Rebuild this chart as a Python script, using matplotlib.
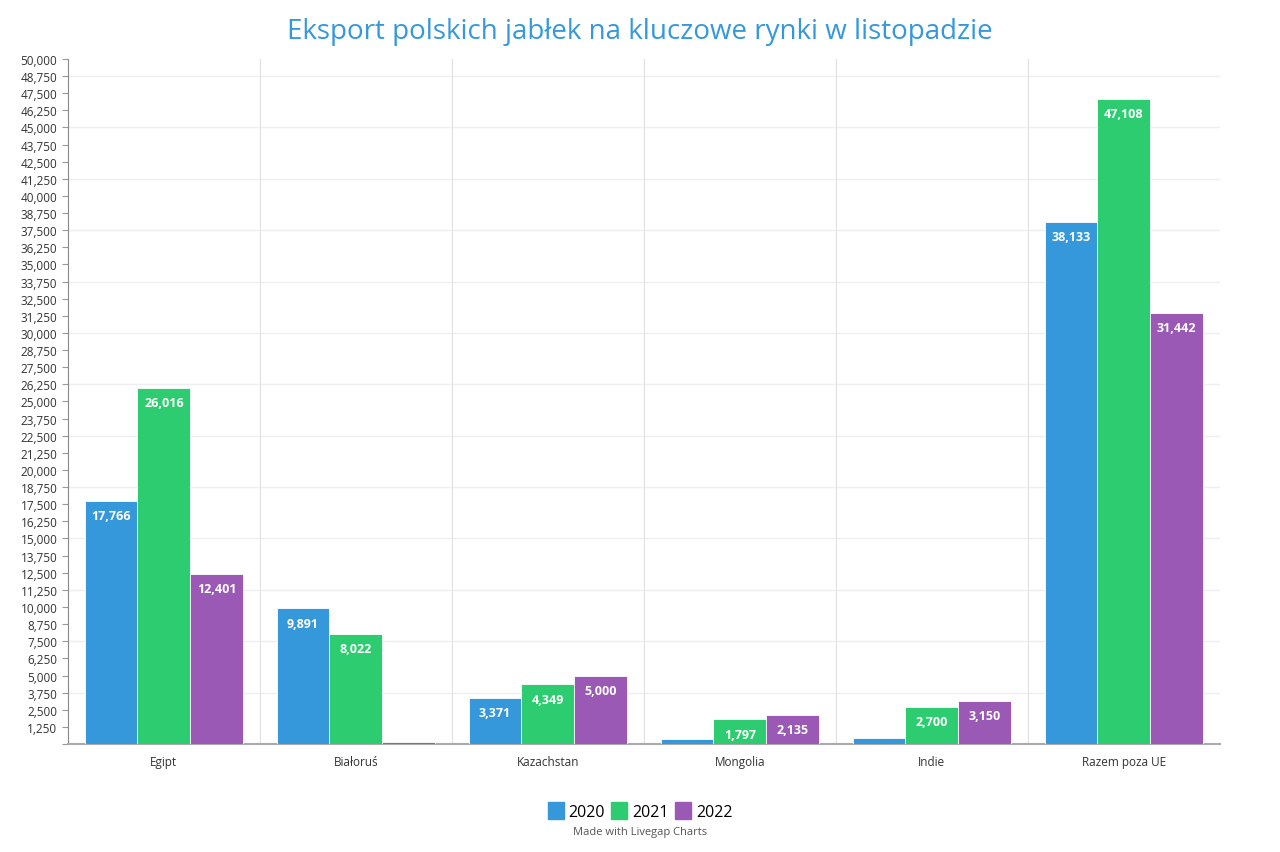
import numpy as np
import matplotlib
matplotlib.use('Agg')
import matplotlib.pyplot as plt
from matplotlib.ticker import FuncFormatter
from matplotlib.patches import Patch

plt.rcParams['font.family'] = ['Open Sans', 'DejaVu Sans']

categories = ['Egipt', 'Białoruś', 'Kazachstan', 'Mongolia', 'Indie', 'Razem poza UE']
years = ['2020', '2021', '2022']
v2020 = [17766, 9891, 3371, 400, 450, 38133]
v2021 = [26016, 8022, 4349, 1797, 2700, 47108]
v2022 = [12401, 150, 5000, 2135, 3150, 31442]
# which bars carry a value label
show2020 = [True, True, True, False, False, True]
show2021 = [True, True, True, True, True, True]
show2022 = [True, False, True, True, True, True]

colors = ['#3498db', '#2ecc71', '#9b59b6']

fig = plt.figure(figsize=(12.8, 8.53), dpi=100)
ax = fig.add_axes([0.053, 0.1266, 0.9, 0.8031])

x = np.arange(len(categories))
bw = 0.275
series = [v2020, v2021, v2022]
shows = [show2020, show2021, show2022]
for k, (vals, col, show) in enumerate(zip(series, colors, shows)):
    xs = x + (k - 1) * bw
    ax.bar(xs, vals, width=bw, color=col, edgecolor='white', linewidth=0.6, zorder=3)
    for xi, v, s in zip(xs, vals, show):
        if s:
            ax.text(xi, v - 600, f"{v:,}", ha='center', va='top', color='white',
                    fontsize=9, fontweight='bold', zorder=4)

ax.set_xlim(-0.5, len(categories) - 0.5)
ax.set_ylim(0, 50000)
ax.set_yticks(np.arange(0, 50001, 1250))
ax.yaxis.set_major_formatter(FuncFormatter(lambda v, p: '' if v == 0 else f"{int(v):,}"))
ax.tick_params(axis='y', labelsize=8.5, colors='#999999', labelcolor='#333333', length=4)
ax.set_xticks(x)
ax.set_xticklabels(categories, fontsize=8.5, color='#333333')
ax.tick_params(axis='x', length=0, pad=8)

# gridlines
for gy in np.arange(3750, 50001, 3750):
    ax.axhline(gy, color='#eeeeee', linewidth=1, zorder=1)
for gx in np.arange(0.5, len(categories) - 0.5, 1):
    ax.axvline(gx, color='#e0e0e0', linewidth=0.8, zorder=1)

for side in ['top', 'right']:
    ax.spines[side].set_visible(False)
ax.spines['left'].set_color('#888888')
ax.spines['bottom'].set_color('#aaaaaa')
ax.spines['bottom'].set_linewidth(1.5)

fig.text(0.5, 0.963, 'Eksport polskich jabłek na kluczowe rynki w listopadzie',
         ha='center', va='center', fontsize=20, color='#3498db')

handles = [Patch(facecolor=c, edgecolor=c) for c in colors]
fig.legend(handles, years, loc='center', bbox_to_anchor=(0.5, 0.048), ncol=3,
           frameon=False, fontsize=11.5, handlelength=1.0, handleheight=1.2,
           handletextpad=0.3, columnspacing=0.4)
fig.text(0.5, 0.024, 'Made with Livegap Charts', ha='center', va='center',
         fontsize=8, color='#555555')

fig.savefig('out.png', dpi=100)
